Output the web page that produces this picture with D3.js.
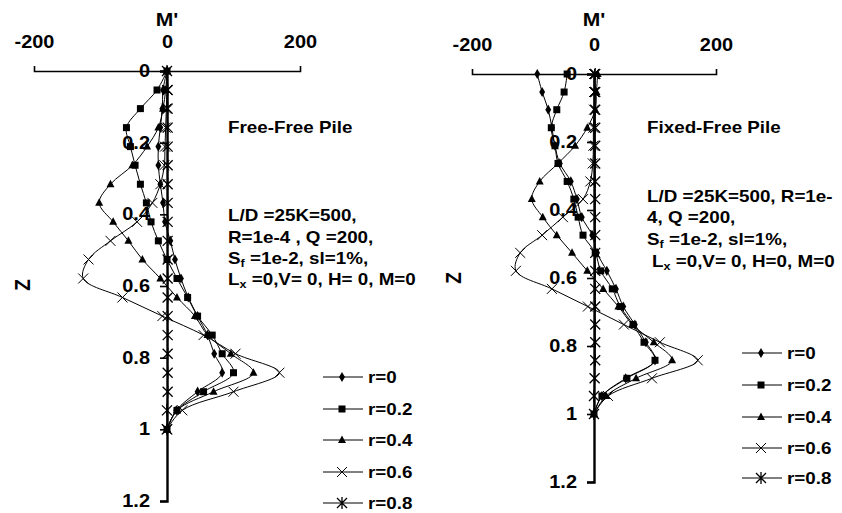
<!DOCTYPE html>
<html>
<head>
<meta charset="utf-8">
<script src="https://cdn.jsdelivr.net/npm/d3@7"></script>
<style>
  body { margin: 0; background: #fff; }
  svg text { font-family: "Liberation Sans", Arial, sans-serif; font-weight: bold; fill: #000; }
</style>
</head>
<body>
<svg id="chart" width="842" height="513"></svg>
<script>
// depth points along the pile (Z), 20 nodes
var zVals = [0, 0.053, 0.105, 0.158, 0.211, 0.263, 0.316, 0.368, 0.421, 0.474,
             0.526, 0.579, 0.632, 0.684, 0.737, 0.789, 0.842, 0.895, 0.947, 1];

var rLabels = ["r=0", "r=0.2", "r=0.4", "r=0.6", "r=0.8"];

// Free-Free pile, M' values
var freeR0  = [0, -6, -7, -10, -13, -13, -10, -6, -3, 5, 12, 21, 32, 46, 61, 71, 83, 46, 14, 0];
var freeR02 = [0, -15, -40, -61, -55, -48, -40, -31, -24, -13, 0, 15, 31, 46, 68, 83, 100, 55, 15, 0];
var freeR04 = [0, -2, -6, -13, -30, -52, -85, -102, -81, -58, -37, -10, 15, 42, 61, 96, 130, 70, 15, 0];
var freeR06 = [0, 0, -1, -2, -3, -4, -10, -22, -45, -85, -118, -126, -67, -7, 55, 103, 169, 100, 23, 0];
var freeR08 = [0, 1, 1, 1, 1, 1, 1, 1, 1, 1, 1, 1, 1, 1, 1, 1, 1, 1, 0, 0];

// Fixed-Free pile, M' values
var fixR0  = [-93, -85, -75, -69, -64, -56, -38, -28, -20, -3, 5, 21, 36, 48, 67, 85, 100, 52, 13, 0];
var fixR02 = [-44, -49, -61, -70, -64, -59, -44, -33, -26, -18, 2, 11, 30, 43, 64, 82, 100, 54, 13, 0];
var fixR04 = [6, 4, 2, -11, -31, -59, -89, -102, -84, -61, -36, -11, 15, 40, 63, 98, 128, 69, 20, 0];
var fixR06 = [0, 0, 0, -1, -1, -2, -6, -18, -51, -85, -121, -128, -69, -10, 49, 108, 170, 95, 23, 0];
var fixR08 = [2, 2, 2, 2, 2, 2, 2, 2, 2, 2, 2, 2, 2, 2, 2, 2, 2, 1, 0, 0];

var xTicks = [-200, 0, 200];
var zTicks = [0, 0.2, 0.4, 0.6, 0.8, 1, 1.2];

var markerTypes = ["diamond", "square", "triangle", "x", "star"];

// the original figure's lettering is a bit wider than Liberation Sans
var STRETCH = 1.14;

var svg = d3.select("#chart");

function stretchText(sel) {
    sel.each(function() {
        var t = d3.select(this);
        var x = +t.attr("x") || 0, y = +t.attr("y") || 0;
        t.attr("x", 0).attr("y", 0)
         .attr("transform", "translate(" + x + "," + y + ") scale(" + STRETCH + ",1)");
    });
}

function marker(g, type, x, y) {
    if (type == "diamond") {
        g.append("path").attr("d", d3.symbol(d3.symbolDiamond, 30)())
            .attr("transform", "translate(" + x + "," + y + ")").attr("fill", "#000");
    } else if (type == "square") {
        g.append("rect").attr("x", x - 3.5).attr("y", y - 3.5).attr("width", 7).attr("height", 7).attr("fill", "#000");
    } else if (type == "triangle") {
        g.append("path").attr("d", "M" + x + "," + (y - 4.5) + "L" + (x + 4) + "," + (y + 3) + "L" + (x - 4) + "," + (y + 3) + "Z")
            .attr("fill", "#000");
    } else if (type == "x") {
        g.append("path").attr("d", "M" + (x - 5) + "," + (y - 5) + "L" + (x + 5) + "," + (y + 5) +
            "M" + (x + 5) + "," + (y - 5) + "L" + (x - 5) + "," + (y + 5))
            .attr("stroke", "#000").attr("stroke-width", 1).attr("fill", "none");
    } else {
        g.append("path").attr("d", "M" + (x - 5) + "," + (y - 5) + "L" + (x + 5) + "," + (y + 5) +
            "M" + (x + 5) + "," + (y - 5) + "L" + (x - 5) + "," + (y + 5) +
            "M" + x + "," + (y - 6) + "L" + x + "," + (y + 6))
            .attr("stroke", "#000").attr("stroke-width", 1.3).attr("fill", "none");
    }
}

function panel(opts) {
    var x = d3.scaleLinear().domain([-200, 200]).range(opts.xr);
    var y = d3.scaleLinear().domain([0, 1.2]).range(opts.yr);
    var g = svg.append("g");

    var line = d3.line()
        .x(function(d) { return x(d[0]); })
        .y(function(d) { return y(d[1]); })
        .curve(d3.curveCatmullRom.alpha(0.5));

    opts.series.forEach(function(vals, k) {
        var pts = vals.map(function(v, i) { return [v, zVals[i]]; });
        g.append("path").attr("d", line(pts))
            .attr("fill", "none").attr("stroke", "#000").attr("stroke-width", 1);
        pts.forEach(function(p) { marker(g, markerTypes[k], x(p[0]), y(p[1])); });
    });

    // axes drawn on top
    var xa = g.append("g").attr("transform", "translate(0," + y(0) + ")")
        .call(d3.axisTop(x).tickValues(xTicks).tickSize(5).tickPadding(18).tickFormat(function(d) { return d; }));
    xa.select(".domain").attr("stroke-width", 1.6);
    xa.selectAll("text").style("font-size", "17.5px").call(stretchText);

    var ya = g.append("g").attr("transform", "translate(" + x(0) + ",0)")
        .call(d3.axisLeft(y).tickValues(zTicks).tickSize(7).tickPadding(10).tickFormat(function(d) { return d; }));
    ya.select(".domain").attr("stroke-width", 2.4);
    ya.selectAll(".tick line").attr("stroke-width", 1.6);
    ya.selectAll("text").style("font-size", "17.5px").call(stretchText);

    g.append("text").attr("x", x(0)).attr("y", 26).attr("text-anchor", "middle")
        .style("font-size", "18.5px").text("M'").call(stretchText);

    g.append("text")
        .attr("transform", "translate(" + opts.zLab[0] + "," + opts.zLab[1] + ") scale(" + STRETCH + ",1) rotate(-90)")
        .attr("text-anchor", "middle").attr("dy", "0.35em").style("font-size", "19px").text("Z");

    // title and parameters
    g.append("text").attr("x", opts.title[0]).attr("y", opts.title[1]).style("font-size", "16.5px")
        .text(opts.titleText).call(stretchText);
    opts.notes.forEach(function(n, i) {
        var t = g.append("text").attr("x", opts.notesX[i]).attr("y", opts.notesY[i]).style("font-size", "16.5px");
        n.forEach(function(part) {
            var s = t.append("tspan").text(part[0]);
            if (part[1]) s.attr("baseline-shift", "-3").style("font-size", "11px");
        });
        t.call(stretchText);
    });

    // legend
    opts.legendY.forEach(function(ly, k) {
        g.append("line").attr("x1", opts.legendX).attr("x2", opts.legendX + 40)
            .attr("y1", ly).attr("y2", ly).attr("stroke", "#000").attr("stroke-width", 1);
        marker(g, markerTypes[k], opts.legendX + 19, ly);
        g.append("text").attr("x", opts.legendX + 45).attr("y", ly).attr("dy", "0.36em")
            .style("font-size", "16.5px").text(rLabels[k]).call(stretchText);
    });
}

panel({
    xr: [34, 300], yr: [71, 501],
    series: [freeR0, freeR02, freeR04, freeR06, freeR08],
    zLab: [22, 285],
    title: [228, 133], titleText: "Free-Free Pile",
    notes: [
        [["L/D =25K=500,"]],
        [["R=1e-4 , Q =200,"]],
        [["S"], ["f", true], [" =1e-2, sl=1%,"]],
        [["L"], ["x", true], [" =0,V= 0, H=  0, M=0"]]
    ],
    notesX: [228, 228, 228, 228],
    notesY: [221, 243, 264, 285],
    legendX: 323, legendY: [377, 409, 440, 472, 503]
});

panel({
    xr: [472, 716], yr: [74, 482],
    series: [fixR0, fixR02, fixR04, fixR06, fixR08],
    zLab: [453, 278],
    title: [647, 133], titleText: "Fixed-Free Pile",
    notes: [
        [["L/D =25K=500, R=1e-"]],
        [["4, Q =200,"]],
        [["S"], ["f", true], [" =1e-2, sl=1%,"]],
        [["L"], ["x", true], [" =0,V= 0, H=0, M=0"]]
    ],
    notesX: [647, 647, 647, 652],
    notesY: [202, 223, 245, 267],
    legendX: 742, legendY: [353, 385, 417, 448, 478]
});
</script>
</body>
</html>
